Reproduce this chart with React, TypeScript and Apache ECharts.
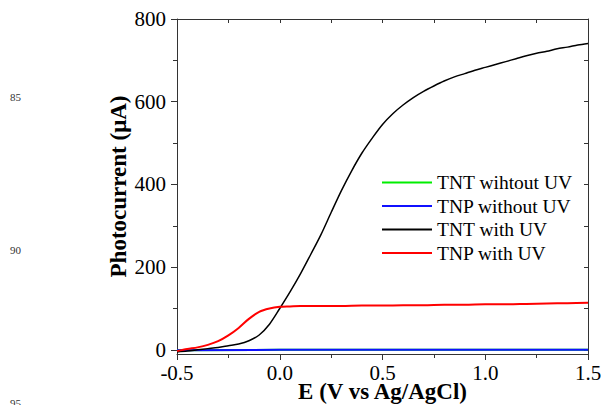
import React, { useEffect, useRef } from "react";
import * as echarts from "echarts";

const seriesNames = ["TNT wihtout UV", "TNP without UV", "TNT with UV", "TNP with UV"];
const seriesColors = ["#00ee00", "#1010ff", "#000000", "#ff0000"];

const tntNoUV: [number, number][] = [
  [-0.5, -1], [0.0, 0], [0.5, 0], [1.0, 0], [1.5, 0],
];
const tnpNoUV: [number, number][] = [
  [-0.5, -1], [0.0, 0], [0.5, 0], [1.0, 0], [1.5, 0],
];
const tntUV: [number, number][] = [
  [-0.5, -5], [-0.45, -3], [-0.4, 0], [-0.35, 3], [-0.3, 6], [-0.25, 10],
  [-0.2, 14], [-0.15, 22], [-0.1, 36], [-0.05, 62], [0.0, 100], [0.05, 140],
  [0.1, 183], [0.15, 230], [0.2, 278], [0.25, 332], [0.3, 385], [0.35, 433],
  [0.4, 476], [0.45, 512], [0.5, 545], [0.55, 571], [0.6, 592], [0.65, 610],
  [0.7, 625], [0.75, 638], [0.8, 650], [0.85, 660], [0.9, 668], [0.95, 676],
  [1.0, 683], [1.05, 690], [1.1, 697], [1.15, 704], [1.2, 711], [1.25, 717],
  [1.3, 722], [1.35, 728], [1.4, 732], [1.45, 737], [1.5, 741],
];
const tnpUV: [number, number][] = [
  [-0.5, -3], [-0.45, 2], [-0.4, 6], [-0.35, 12], [-0.3, 21], [-0.25, 35],
  [-0.2, 53], [-0.15, 75], [-0.1, 92], [-0.05, 100], [0.0, 104], [0.05, 105],
  [0.1, 106], [0.2, 106], [0.3, 106], [0.4, 107], [0.5, 107], [0.6, 108],
  [0.7, 108], [0.8, 109], [0.9, 109], [1.0, 110], [1.1, 110], [1.2, 111],
  [1.3, 112], [1.4, 113], [1.5, 114],
];

const yMajorTicks = [0, 200, 400, 600, 800];
const yMinorTicks = [100, 300, 500, 700];
const yAllTicks = [0, 100, 200, 300, 400, 500, 600, 700, 800];
const lineNumbers = ["85", "90", "95"];

const FONT = "'Liberation Serif', 'Times New Roman', serif";

export default function App() {
  const ref = useRef<HTMLDivElement>(null);
  useEffect(() => {
    if (!ref.current) return;
    const chart = echarts.init(ref.current, undefined, { renderer: "svg" });
    const axisLine = { show: true, onZero: false, lineStyle: { color: "#333", width: 1 } };
    const lnY = [97, 250, 403];
    chart.setOption({
      animation: false,
      backgroundColor: "#fff",
      grid: { left: 177, right: 13, top: 19, bottom: 51, containLabel: false, outerBoundsMode: "none" },
      legend: {
        data: seriesNames.map((n) => ({ name: n, icon: "rect" })),
        orient: "vertical",
        left: 382,
        top: 171,
        padding: 0,
        itemWidth: 50,
        itemHeight: 2,
        itemGap: 0.5,
        textStyle: { fontFamily: FONT, fontSize: 19.5, color: "#000", lineHeight: 23 },
      },
      graphic: lineNumbers.map((t, i) => ({
        type: "text",
        left: 10,
        top: lnY[i] - 6,
        style: { text: t, fontFamily: FONT, fontSize: 11, fill: "#333" },
      })),
      xAxis: [
        {
          type: "value",
          min: -0.5,
          max: 1.5,
          interval: 0.5,
          position: "bottom",
          name: "E (V vs Ag/AgCl)",
          nameLocation: "middle",
          nameGap: 26,
          nameMoveOverlap: false,
          nameTextStyle: { fontFamily: FONT, fontSize: 23, fontWeight: "bold", color: "#000" },
          axisLine,
          axisTick: { show: true, inside: false, length: 6, lineStyle: { color: "#333" } },
          minorTick: { show: true, splitNumber: 2, length: 4, lineStyle: { color: "#333" } },
          axisLabel: {
            margin: 8,
            fontFamily: FONT,
            fontSize: 21,
            color: "#000",
            formatter: (v: number) => v.toFixed(1),
          },
          splitLine: { show: false },
        },
        {
          type: "value",
          min: -0.5,
          max: 1.5,
          interval: 0.5,
          position: "top",
          axisLine,
          axisTick: { show: true, inside: true, length: 4, lineStyle: { color: "#333" } },
          minorTick: { show: true, splitNumber: 2, length: 4, lineStyle: { color: "#333" } },
          axisLabel: { show: false },
          splitLine: { show: false },
        },
      ],
      yAxis: [
        {
          type: "value",
          min: -10,
          max: 800,
          position: "left",
          name: "Photocurrent (\u03bcA)",
          nameLocation: "middle",
          nameGap: 47,
          nameMoveOverlap: false,
          nameTextStyle: { fontFamily: FONT, fontSize: 23, fontWeight: "bold", color: "#000" },
          axisLine,
          axisTick: {
            show: true,
            inside: false,
            length: 6,
            customValues: yMajorTicks,
            lineStyle: { color: "#333" },
          },
          axisLabel: {
            margin: 11,
            fontFamily: FONT,
            fontSize: 21,
            color: "#000",
            customValues: yMajorTicks,
          },
          splitLine: { show: false },
        },
        {
          type: "value",
          min: -10,
          max: 800,
          position: "left",
          axisLine: { show: false, onZero: false },
          axisTick: {
            show: true,
            inside: false,
            length: 4,
            customValues: yMinorTicks,
            lineStyle: { color: "#333" },
          },
          axisLabel: { show: false },
          splitLine: { show: false },
        },
        {
          type: "value",
          min: -10,
          max: 800,
          position: "right",
          axisLine,
          axisTick: {
            show: true,
            inside: true,
            length: 4,
            customValues: yAllTicks,
            lineStyle: { color: "#333" },
          },
          axisLabel: { show: false },
          splitLine: { show: false },
        },
      ],
      series: [
        { name: seriesNames[0], type: "line", data: tntNoUV, color: seriesColors[0], symbol: "none", lineStyle: { width: 2, color: seriesColors[0] } },
        { name: seriesNames[1], type: "line", data: tnpNoUV, color: seriesColors[1], symbol: "none", lineStyle: { width: 2, color: seriesColors[1] } },
        { name: seriesNames[2], type: "line", data: tntUV, color: seriesColors[2], symbol: "none", smooth: 0.3, lineStyle: { width: 1.5, color: seriesColors[2] } },
        { name: seriesNames[3], type: "line", data: tnpUV, color: seriesColors[3], symbol: "none", smooth: 0.3, lineStyle: { width: 2, color: seriesColors[3] } },
      ],
    });
    return () => chart.dispose();
  }, []);
  return <div ref={ref} style={{ width: 601, height: 405, position: "absolute", left: 0, top: 0 }} />;
}
